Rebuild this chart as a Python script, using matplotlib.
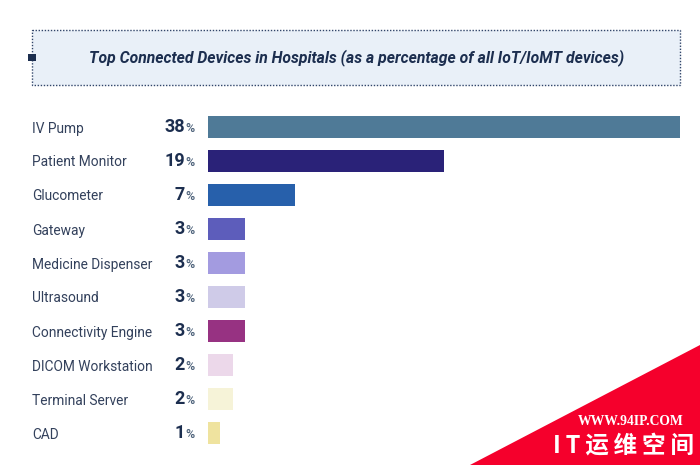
import matplotlib
matplotlib.use("Agg")
import matplotlib.pyplot as plt
from matplotlib.patches import Rectangle, Polygon

# Data
devices = ["IV Pump", "Patient Monitor", "Glucometer", "Gateway", "Medicine Dispenser",
           "Ultrasound", "Connectivity Engine", "DICOM Workstation", "Terminal Server", "CAD"]
percent = [38, 19, 7, 3, 3, 3, 3, 2, 2, 1]
colors = ["#4f7a97", "#2a2278", "#2760ab", "#5d5dbb", "#a39be0",
          "#cfcbe8", "#973282", "#ecd8ea", "#f6f3d8", "#efe39f"]
title = "Top Connected Devices in Hospitals (as a percentage of all IoT/IoMT devices)"

W, H = 700, 465
NARROW = ["Roboto", "DejaVu Sans"]
DARK = "#1c2e4f"

fig = plt.figure(figsize=(7, 4.65), dpi=100)

# overlay in pixel coordinates for the header and the corner badge
bg = fig.add_axes([0, 0, 1, 1])
bg.set_xlim(0, W)
bg.set_ylim(H, 0)
bg.axis("off")
bg.add_patch(Rectangle((32, 30), 648, 55, facecolor="#e9f0f8", edgecolor="#31456a", lw=1, ls=(0, (1, 1.2))))
bg.add_patch(Rectangle((28, 54), 7.5, 7.5, facecolor=DARK, edgecolor="none", zorder=3))
bg.text(356.5, 57.5, title, ha="center", va="center", fontsize=11.3, style="italic",
        weight="bold", color=DARK, family=NARROW)

# bars
ax = fig.add_axes([208 / W, 1 - 450 / H, 472 / W, 340 / H])
ax.patch.set_alpha(0)
y = list(range(len(devices)))
ax.barh(y, percent, height=0.67, color=colors)
ax.set_xlim(0, 38)
ax.set_ylim(len(devices) - 0.5, -0.5)
for side in ax.spines.values():
    side.set_visible(False)
ax.set_xticks([])
ax.set_yticks(y)
ax.set_yticklabels(devices, ha="left", fontsize=9.9, color="#33415c", family=NARROW)
ax.tick_params(axis="y", length=0, pad=176 * 0.72)

for i, v in enumerate(percent):
    ax.annotate(str(v), (0, i), xytext=(-16.5, 0), textcoords="offset points", ha="right",
                va="center", fontsize=13, weight="bold", color=DARK, family=NARROW)
    ax.annotate("%", (0, i), xytext=(-10, -1), textcoords="offset points", ha="right",
                va="center", fontsize=9, weight="medium", color="#4a5f78", family=NARROW)

# corner badge
over = fig.add_axes([0, 0, 1, 1])
over.set_xlim(0, W)
over.set_ylim(H, 0)
over.axis("off")
over.add_patch(Polygon([(470, 465), (700, 345), (700, 465)], facecolor="#f5002c", edgecolor="none"))
over.text(631, 421, "WWW.94IP.COM", ha="center", va="center", color="white", fontsize=9.8,
          weight="bold", family="Liberation Serif")
over.text(623.5, 446, "I\u2009T\u2009运\u2009维\u2009空\u2009间", ha="center", va="center", color="white",
          fontsize=17, weight="bold", family=["Noto Sans CJK SC", "DejaVu Sans"])

fig.savefig("out.png", dpi=100)
